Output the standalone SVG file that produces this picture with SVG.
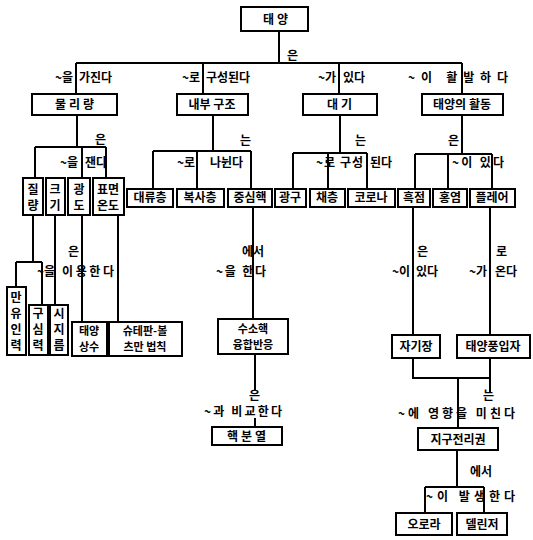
<svg xmlns="http://www.w3.org/2000/svg" width="533" height="540" viewBox="0 0 533 540">
<style>
.b{fill:#fff;stroke:#000;stroke-width:2}
.c{fill:none;stroke:#000;stroke-width:2}
text{font-family:"Noto Sans CJK KR","Noto Sans",sans-serif;font-weight:bold;font-size:12px;fill:#000}
.m{text-anchor:middle}
.e{text-anchor:end}
.w{letter-spacing:3px}
.s{font-size:11px}
</style>
<rect width="533" height="540" fill="#fff"/>
<g id="connectors">
<path class="c" d="M279,31V63M76,63H462M76,63V94M203,63V94M339,63V94M462,63V94"/>
<path class="c" d="M77,115V147M35,147H106M35,147V178M82,147V178M106,147V178"/>
<path class="c" d="M213,115V151M153,151H251M153,151V189M197,151V189M251,151V189"/>
<path class="c" d="M340,115V153M293,153H367M293,153V189M328,153V189M367,153V189"/>
<path class="c" d="M462,115V154M415,154H492M415,154V189M448,154V189M492,154V189"/>
<path class="c" d="M33,215V262M16,262H42M16,262V287M42,262V305M55,215V305M82,215V322M118,215V322"/>
<path class="c" d="M253,207V319M255,354V390M255,418V427"/>
<path class="c" d="M413,207V335M490,207V335M413,358V378H490M490,358V392M458,378V428"/>
<path class="c" d="M457,450V487M425,487H484M425,487V513M484,487V513"/>
</g>
<g id="labels">
<text x="287" y="60">은</text>
<text class="e" x="73" y="82">~을</text><text x="79" y="82">가진다</text>
<text class="e" x="200" y="82">~로</text><text x="206" y="82">구성된다</text>
<text class="e" x="336" y="82">~가</text><text x="343" y="82">있다</text>
<text x="408" y="82" textLength="100" lengthAdjust="spacing">~이 활발하다</text>
<text x="95" y="144">은</text>
<text class="e" x="78" y="167">~을</text><text x="85" y="167">잰다</text>
<text x="240" y="145">는</text>
<text class="e" x="195" y="167">~로</text><text x="210" y="167">나뉜다</text>
<text x="355" y="145">는</text>
<text x="316" y="167" textLength="47" lengthAdjust="spacing">~로 구성</text><text x="370" y="167">된다</text>
<text x="448" y="145">은</text>
<text x="452" y="167" textLength="52" lengthAdjust="spacing">~이 있다</text>
<text x="68" y="256">은</text>
<text class="e" x="55" y="276">~을</text><text x="62" y="276" textLength="52" lengthAdjust="spacing">이용한다</text>
<text x="242" y="256">에서</text>
<text x="216" y="276" textLength="50" lengthAdjust="spacing">~을 한다</text>
<text x="249" y="400">은</text>
<text x="204" y="416" textLength="78" lengthAdjust="spacing">~과 비교한다</text>
<text x="417" y="256">은</text>
<text class="e" x="410" y="276">~이</text><text x="416" y="276">있다</text>
<text x="496" y="256">로</text>
<text class="e" x="487" y="276">~가</text><text x="495" y="276">온다</text>
<text x="483" y="400">는</text>
<text x="398" y="418" textLength="117" lengthAdjust="spacing">~에 영향을 미친다</text>
<text x="470" y="476">에서</text>
<text x="426" y="501" textLength="89" lengthAdjust="spacing">~이 발생한다</text>
</g>
<g id="n-sun"><rect class="b" x="241" y="7" width="67" height="24"/><text class="m w" x="277" y="24">태양</text></g>
<g id="n-physical"><rect class="b" x="32" y="94" width="85" height="21"/><text class="m w" x="76" y="109">물리량</text></g>
<g id="n-internal"><rect class="b" x="177" y="94" width="71" height="21"/><text class="m" x="212" y="109">내부 구조</text></g>
<g id="n-atmosphere"><rect class="b" x="303" y="94" width="74" height="21"/><text class="m w" x="341" y="109">대기</text></g>
<g id="n-activity"><rect class="b" x="422" y="94" width="81" height="21"/><text class="m" x="462" y="109">태양의 활동</text></g>
<g id="n-mass"><rect class="b" x="23" y="178" width="20" height="37"/><text class="m" x="33" y="194">질</text><text class="m" x="33" y="210">량</text></g>
<g id="n-size"><rect class="b" x="46" y="178" width="19" height="37"/><text class="m" x="55" y="194">크</text><text class="m" x="55" y="210">기</text></g>
<g id="n-lum"><rect class="b" x="68" y="178" width="22" height="37"/><text class="m" x="79" y="194">광</text><text class="m" x="79" y="210">도</text></g>
<g id="n-temp"><rect class="b" x="93" y="178" width="31" height="37"/><text class="m" x="108" y="194">표면</text><text class="m" x="108" y="210">온도</text></g>
<g id="n-conv"><rect class="b" x="127" y="189" width="46" height="18"/><text class="m" x="150" y="202">대류층</text></g>
<g id="n-rad"><rect class="b" x="177" y="189" width="47" height="18"/><text class="m" x="200" y="202">복사층</text></g>
<g id="n-core"><rect class="b" x="228" y="189" width="44" height="18"/><text class="m" x="250" y="202">중심핵</text></g>
<g id="n-photo"><rect class="b" x="275" y="189" width="31" height="18"/><text class="m" x="290" y="202">광구</text></g>
<g id="n-chromo"><rect class="b" x="310" y="189" width="35" height="18"/><text class="m" x="327" y="202">채층</text></g>
<g id="n-corona"><rect class="b" x="348" y="189" width="47" height="18"/><text class="m" x="371" y="202">코로나</text></g>
<g id="n-spot"><rect class="b" x="398" y="189" width="32" height="18"/><text class="m" x="414" y="202">흑점</text></g>
<g id="n-prom"><rect class="b" x="433" y="189" width="34" height="18"/><text class="m" x="450" y="202">홍염</text></g>
<g id="n-flare"><rect class="b" x="470" y="189" width="45" height="18"/><text class="m" x="492" y="202">플레어</text></g>
<g id="n-gravity"><rect class="b" x="7" y="287" width="19" height="68"/><text class="m" x="16" y="302">만</text><text class="m" x="16" y="318">유</text><text class="m" x="16" y="334">인</text><text class="m" x="16" y="350">력</text></g>
<g id="n-centri"><rect class="b" x="29" y="305" width="19" height="50"/><text class="m" x="38" y="318">구</text><text class="m" x="38" y="334">심</text><text class="m" x="38" y="350">력</text></g>
<g id="n-angdiam"><rect class="b" x="50" y="305" width="18" height="50"/><text class="m" x="59" y="318">시</text><text class="m" x="59" y="334">지</text><text class="m" x="59" y="350">름</text></g>
<g id="n-solconst"><rect class="b" x="72" y="322" width="35" height="34"/><text class="m s" x="89" y="335">태양</text><text class="m s" x="89" y="351">상수</text></g>
<g id="n-stefan"><rect class="b" x="109" y="322" width="73" height="34"/><text class="m s" x="145" y="335">슈테판-볼</text><text class="m s" x="145" y="351">츠만 법칙</text></g>
<g id="n-fusion"><rect class="b" x="218" y="319" width="70" height="35"/><text class="m s" x="253" y="333">수소핵</text><text class="m s" x="253" y="349">융합반응</text></g>
<g id="n-fission"><rect class="b" x="212" y="427" width="70" height="18"/><text class="m w" x="248" y="441">핵분열</text></g>
<g id="n-magnetic"><rect class="b" x="392" y="335" width="48" height="23"/><text class="m" x="416" y="351">자기장</text></g>
<g id="n-wind"><rect class="b" x="457" y="335" width="73" height="23"/><text class="m" x="493" y="351">태양풍입자</text></g>
<g id="n-iono"><rect class="b" x="418" y="428" width="80" height="22"/><text class="m" x="458" y="444">지구전리권</text></g>
<g id="n-aurora"><rect class="b" x="396" y="513" width="56" height="22"/><text class="m" x="424" y="529">오로라</text></g>
<g id="n-dellinger"><rect class="b" x="457" y="513" width="50" height="22"/><text class="m" x="482" y="529">델린저</text></g>
</svg>
